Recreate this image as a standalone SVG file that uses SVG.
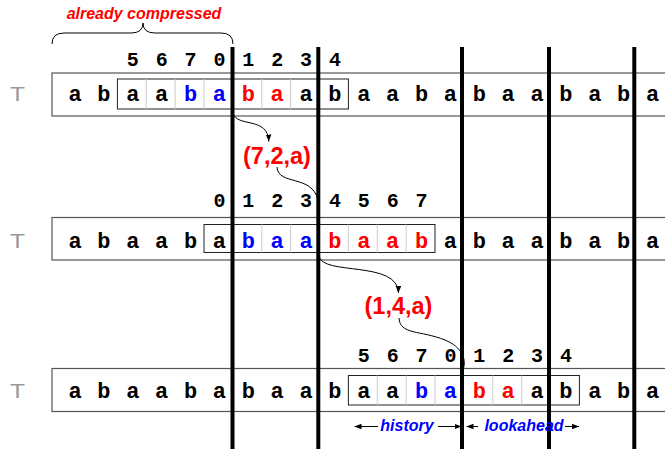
<svg xmlns="http://www.w3.org/2000/svg" width="665" height="449" viewBox="0 0 665 449">
<defs>
<style>
.ch{font-family:"Liberation Mono","Courier New",monospace;font-weight:bold;font-size:22px;text-anchor:middle;fill:#000}
.dg{font-family:"Liberation Mono","Courier New",monospace;font-weight:bold;font-size:20px;text-anchor:middle;fill:#000}
.b{fill:#0000ff}
.r{fill:#ff0000}
.T{font-family:"Liberation Sans",Arial,sans-serif;font-size:21px;fill:#999}
.outer{fill:none;stroke:#555;stroke-width:1.2}
.inner{fill:none;stroke:#222;stroke-width:1}
.div{stroke:#ccc;stroke-width:1}
.thick{stroke:#000;stroke-width:4}
.con{fill:none;stroke:#000;stroke-width:1}
.tup{font-family:"Liberation Sans",Arial,sans-serif;font-weight:bold;font-size:23.5px;fill:#ff0000;text-anchor:middle}
.lab{font-family:"Liberation Sans",Arial,sans-serif;font-weight:bold;font-style:italic;font-size:16px;text-anchor:middle}
</style>
<marker id="ah" viewBox="0 0 10 10" refX="10" refY="5" markerWidth="7" markerHeight="7" orient="auto" markerUnits="userSpaceOnUse">
<path d="M0,1 L10,5 L0,9 z" fill="#000"/>
</marker>
</defs>
<rect width="665" height="449" fill="#fff"/>

<g id="label-compressed">
<path class="con" d="M52,44 Q52,33 64,33 L131,33 Q143,33 143,23 Q143,33 155,33 L221,33 Q233,33 233,44"/>
<text class="lab r" x="144" y="19">already compressed</text>
</g>

<g id="row1">
<text class="T" x="10" y="101" textLength="15" lengthAdjust="spacingAndGlyphs">T</text>
<rect class="outer" x="52" y="73" width="630" height="43"/>
<rect class="inner" x="117.4" y="79" width="231" height="30"/>
<path class="div" d="M146.2,79V109M175.1,79V109M204,79V109M261.8,79V109M290.6,79V109"/>
<text class="dg" y="65.7"><tspan x="132.76 161.64 190.52 219.4 248.28 277.16 306.04 334.92">56701234</tspan></text>
<text class="ch" y="101"><tspan x="75 103.88 132.76 161.64">abaa</tspan><tspan class="b" x="190.52 219.4">ba</tspan><tspan class="r" x="248.28 277.16">ba</tspan><tspan x="306.04 334.92 363.8 392.68 421.56 450.44 479.32 508.2 537.08 565.96 594.84 623.72 652.6">abaababaababa</tspan></text>
</g>

<g id="row2">
<text class="T" x="10" y="247.5" textLength="15" lengthAdjust="spacingAndGlyphs">T</text>
<rect class="outer" x="52" y="217.5" width="630" height="42.5"/>
<rect class="inner" x="204" y="224.5" width="231" height="28"/>
<path class="div" d="M232.9,224.5V252.5M261.8,224.5V252.5M290.6,224.5V252.5M319.5,224.5V252.5M348.4,224.5V252.5M377.3,224.5V252.5M406.2,224.5V252.5"/>
<text class="dg" y="207"><tspan x="219.4 248.28 277.16 306.04 334.92 363.8 392.68 421.56">01234567</tspan></text>
<text class="ch" y="247.5"><tspan x="75 103.88 132.76 161.64 190.52 219.4">abaaba</tspan><tspan class="b" x="248.28 277.16 306.04">baa</tspan><tspan class="r" x="334.92 363.8 392.68 421.56">baab</tspan><tspan x="450.44 479.32 508.2 537.08 565.96 594.84 623.72 652.6">abaababa</tspan></text>
</g>

<g id="row3">
<text class="T" x="10" y="397.5" textLength="15" lengthAdjust="spacingAndGlyphs">T</text>
<rect class="outer" x="52" y="368.5" width="630" height="43"/>
<rect class="inner" x="348.4" y="375.5" width="231" height="29.5"/>
<path class="div" d="M377.3,375.5V405M406.2,375.5V405M435,375.5V405M492.8,375.5V405M521.7,375.5V405"/>
<text class="dg" y="361.5"><tspan x="363.8 392.68 421.56 450.44 479.32 508.2 537.08 565.96">56701234</tspan></text>
<text class="ch" y="397.5"><tspan x="75 103.88 132.76 161.64 190.52 219.4 248.28 277.16 306.04 334.92 363.8 392.68">abaababaabaa</tspan><tspan class="b" x="421.56 450.44">ba</tspan><tspan class="r" x="479.32 508.2">ba</tspan><tspan x="537.08 565.96 594.84 623.72 652.6">ababa</tspan></text>
</g>

<g id="separators">
<path class="thick" d="M232.5,47V449M318.3,47V449M462,47V449M549,47V449M634.3,47V449"/>
</g>

<g id="tuple1"><text class="tup" x="277" y="164">(7,2,a)</text></g>
<g id="tuple2"><text class="tup" x="398.5" y="314">(1,4,a)</text></g>

<g id="window-labels">
<text class="lab b" x="407" y="431">history</text>
<text class="lab b" x="524" y="431">lookahead</text>
</g>

<g id="connectors">
<path class="con" d="M233,113 C237,128 268,116 268.8,141.5" marker-end="url(#ah)"/>
<path class="con" d="M277,167 C278,186 312,174 318,200"/>
<path class="con" d="M319,256 C322,276 398,260 398.5,293" marker-end="url(#ah)"/>
<path class="con" d="M399,318 C400,335 420,330 445,340 C462,347 468,360 462,372"/>
<path class="con" d="M378,426.5H354.5" marker-end="url(#ah)"/>
<path class="con" d="M438,426.5H461.5" marker-end="url(#ah)"/>
<path class="con" d="M478,426.5H466.5" marker-end="url(#ah)"/>
<path class="con" d="M565,426.5H579" marker-end="url(#ah)"/>
</g>
</svg>
